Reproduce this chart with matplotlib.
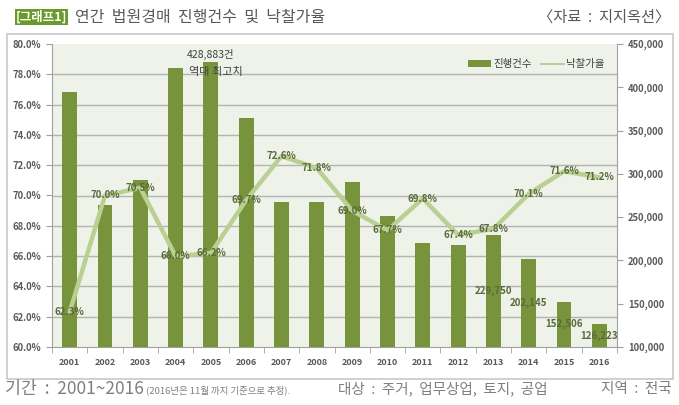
#!/usr/bin/env python3
# coding: utf-8

import matplotlib
matplotlib.use('Agg')
import matplotlib.pyplot as plt
from matplotlib.patches import Rectangle, Patch
from matplotlib.lines import Line2D
from matplotlib.ticker import FuncFormatter
import numpy as np

plt.rcParams['font.family'] = ['Noto Sans CJK KR', 'DejaVu Sans']

# 데이터
years = ['2001', '2002', '2003', '2004', '2005', '2006', '2007', '2008',
         '2009', '2010', '2011', '2012', '2013', '2014', '2015', '2016']
cases = [394600, 264000, 293000, 422000, 428883, 364500, 267500, 267000,
         290600, 251000, 220500, 217800, 229750, 202145, 152506, 126223]
rate = [62.3, 70.0, 70.5, 66.0, 66.2, 69.7, 72.6, 71.8,
        69.0, 67.7, 69.8, 67.4, 67.8, 70.1, 71.6, 71.2]
labeled_cases = [12, 13, 14, 15]

bar_color = '#77933c'
line_color = '#b9d092'
label_color = '#5a6a3c'
tick_color = '#595959'

fig = plt.figure(figsize=(6.79, 4.05), dpi=100)

# 차트 바깥 테두리
fig.patches.append(Rectangle((7 / 679, 1 - 379 / 405), 666 / 679, 345 / 405,
                             transform=fig.transFigure, fill=False,
                             edgecolor='#c8c8c8', linewidth=1.2))

ax = fig.add_axes([52 / 679, 1 - 347 / 405, 565 / 679, 303 / 405])
ax.set_facecolor('#eef2e8')
x = np.arange(len(years))

ax.bar(x, [c - 100000 for c in cases], bottom=100000, width=0.42,
       color=bar_color, zorder=3)
ax.set_xlim(-0.5, len(years) - 0.5)
ax.set_ylim(100000, 450000)

ax2 = ax.twinx()
ax.yaxis.tick_right()
ax2.yaxis.tick_left()

ax.set_yticks(np.arange(100000, 450001, 50000))
ax.yaxis.set_major_formatter(FuncFormatter(lambda v, p: f'{int(v):,}'))
# 왼쪽 축(2%) 간격에 맞춘 격자선
ax.set_yticks(np.arange(100000, 450001, 35000), minor=True)
ax.grid(which='minor', axis='y', color='#b4b4b4', linewidth=1.0, zorder=0)
ax.tick_params(axis='y', which='minor', length=0)
ax.tick_params(axis='y', which='major', length=4, color='#a0a0a0',
               labelsize=6.8, labelcolor=tick_color, pad=4)

ax.set_xticks(x)
ax.set_xticklabels(years)
ax.set_xticks(np.arange(-0.5, len(years), 1), minor=True)
ax.tick_params(axis='x', which='major', length=0, labelsize=6.5,
               labelcolor=tick_color, pad=8)
ax.tick_params(axis='x', which='minor', length=4, color='#a0a0a0')
for lbl in ax.get_xticklabels() + ax.get_yticklabels():
    lbl.set_fontweight('bold')

ax.spines['top'].set_visible(False)
for side in ['left', 'right', 'bottom']:
    ax.spines[side].set_color('#a0a0a0')

for i in labeled_cases:
    ax.text(x[i], (cases[i] + 100000) / 2, f'{cases[i]:,}', ha='center',
            va='center', fontsize=7, fontweight='bold', color=label_color,
            zorder=5)

ax.text(x[4], 438000, '428,883건', ha='center', va='center', fontsize=7.5,
        color='#404040', zorder=6)
ax.text(x[4] + 0.15, 417500, '역대 최고치', ha='center', va='center',
        fontsize=8, color='#404040', zorder=6)

ax2.plot(x, rate, color=line_color, linewidth=3.2, solid_capstyle='round',
         zorder=4)
ax2.set_ylim(60, 80)
ax2.set_yticks(np.arange(60, 80.1, 2))
ax2.yaxis.set_major_formatter(FuncFormatter(lambda v, p: f'{v:.1f}%'))
ax2.tick_params(axis='y', length=4, color='#a0a0a0', labelsize=6.8,
                labelcolor=tick_color, pad=4)
for lbl in ax2.get_yticklabels():
    lbl.set_fontweight('bold')
for side in ['top', 'right', 'bottom', 'left']:
    ax2.spines[side].set_visible(False)

for i, v in enumerate(rate):
    ax2.text(x[i], v, f'{v:.1f}%', ha='center', va='center', fontsize=7,
             fontweight='bold', color=label_color, zorder=6)

handles = [Patch(facecolor=bar_color), Line2D([0], [0], color=line_color,
                                              linewidth=1.5)]
ax2.legend(handles, ['진행건수', '낙찰가율'], ncol=2, frameon=False,
           loc='upper right', bbox_to_anchor=(0.995, 0.98), fontsize=7.5,
           handlelength=2.2, handleheight=0.6, columnspacing=0.9,
           handletextpad=0.2, labelcolor='#404040')

# 제목
fig.text(16 / 679, 1 - 17 / 405, '[그래프1]', ha='left', va='center',
         fontsize=9, fontweight='bold', color='white',
         bbox=dict(boxstyle='square,pad=0.08', facecolor='#6b9a2c',
                   edgecolor='none'))
fig.text(75 / 679, 1 - 17 / 405, '연간  법원경매  진행건수  및  낙찰가율',
         ha='left', va='center', fontsize=11.5, color='#595959')
fig.text(670 / 679, 1 - 17 / 405, '〈자료  :  지지옥션〉', ha='right',
         va='center', fontsize=11, color='#595959')

# 하단 설명
fig.text(5 / 679, 1 - 389 / 405, '기간  :  2001~2016', ha='left',
         va='center', fontsize=12.5, color='#7f7f7f')
fig.text(146 / 679, 1 - 390 / 405, '(2016년은 11월 까지 기준으로 추정).',
         ha='left', va='center', fontsize=6.8, color='#7f7f7f')
fig.text(338 / 679, 1 - 389 / 405, '대상  :  주거,  업무상업,  토지,  공업',
         ha='left', va='center', fontsize=10.5, color='#7f7f7f')
fig.text(672 / 679, 1 - 389 / 405, '지역  :  전국', ha='right', va='center',
         fontsize=10.5, color='#7f7f7f')

fig.savefig('out.png', dpi=100)
